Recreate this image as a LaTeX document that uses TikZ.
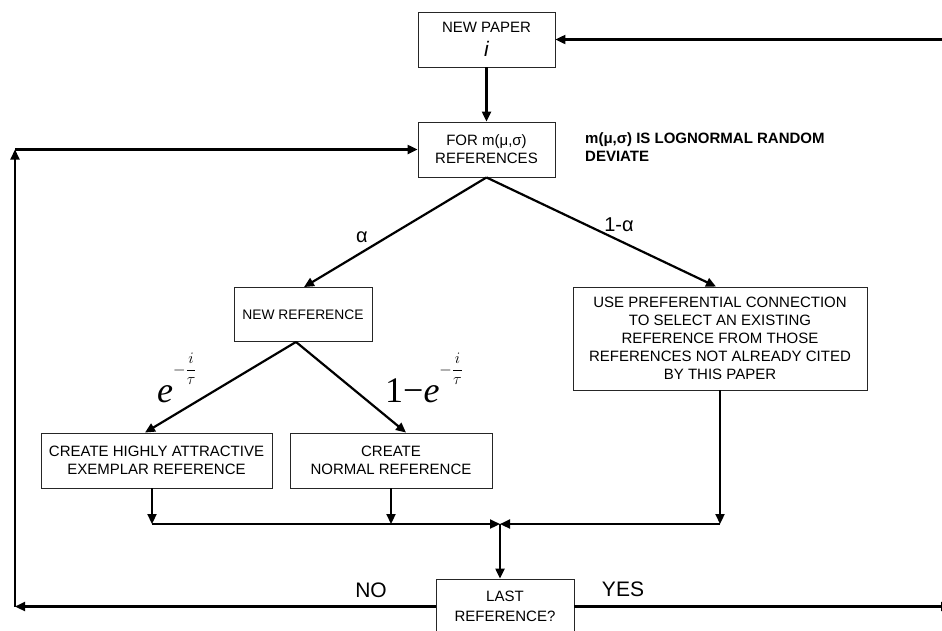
\RequirePackage{fix-cm}
\documentclass[tikz,border=0pt]{standalone}
\usepackage[no-math]{fontspec}
\setmainfont{Liberation Sans}
\newfontfamily\serifnum{Liberation Serif}
\usetikzlibrary{arrows.meta}
\newcommand{\expfrac}{\raisebox{28pt}{\fontsize{16}{16}\selectfont$\displaystyle-\frac{i}{\tau}$}}
\begin{document}
\begin{tikzpicture}[x=1pt,y=-1pt,
  box/.style={draw=black!85, line width=0.9pt, rectangle, inner sep=0pt, align=center, font=\fontsize{15}{18}\selectfont},
  arr/.style={line width=2.2pt, -{Triangle[length=10pt,width=9pt]}},
  lab/.style={inner sep=0pt, font=\fontsize{20}{24}\selectfont},
  biglab/.style={inner sep=0pt, font=\fontsize{21}{24}\selectfont},
  mathlab/.style={anchor=base west, inner sep=0pt, font=\fontsize{36}{40}\selectfont\serifnum},
  note/.style={anchor=north west, inner sep=0pt, align=left, font=\fontsize{15}{18}\selectfont\bfseries}]
\path[use as bounding box, fill=white] (0,0) rectangle (942,630);

% boxes
\node[box, minimum width=137pt, minimum height=55pt] (paper) at (486.5,39.5) {NEW PAPER\\[6pt]{\fontsize{21}{21}\selectfont\itshape i}};
\node[box, minimum width=137pt, minimum height=55pt] (forref) at (486.5,149.5) {FOR m(μ,σ)\\REFERENCES};
\node[note] (note) at (585,132) {m(μ,σ) IS LOGNORMAL RANDOM\\DEVIATE};
\node[box, minimum width=138pt, minimum height=54pt, font=\fontsize{13.8}{16}\selectfont] (newref) at (303,314.5) {NEW REFERENCE};
\node[box, minimum width=294pt, minimum height=103pt] (usepref) at (720,338.5) {USE PREFERENTIAL CONNECTION\\TO SELECT AN EXISTING\\REFERENCE FROM THOSE\\REFERENCES NOT ALREADY CITED\\BY THIS PAPER};
\node[box, minimum width=231pt, minimum height=55pt] (highly) at (156.5,460.5) {CREATE HIGHLY ATTRACTIVE\\EXEMPLAR REFERENCE};
\node[box, minimum width=202pt, minimum height=55pt] (normal) at (391,460.5) {CREATE\\NORMAL REFERENCE};
\node[box, minimum width=138pt, minimum height=55pt, font=\fontsize{15}{20}\selectfont] (last) at (505,606.5) {LAST\\REFERENCE?};

% helper coordinates
\coordinate (rt) at (946,39.5);
\coordinate (lb) at (15,606.5);
\coordinate (lt) at (15,149.5);
\coordinate (rb) at (951,606.5);
\coordinate (j) at (500,524);

% connectors
\draw[arr] (rt) -- (paper.east);
\draw[arr] (paper.south) -- (forref.north);
\draw[arr] (last.west) -- (lb);
\draw[arr] (lb) -- (lt);
\draw[arr] (lt) -- (forref.west);
\draw[arr] (last.east) -- (rb);
\draw[arr] (forref.south) -- ([xshift=1pt]newref.north);
\draw[arr] (forref.south) -- ([xshift=-4pt]usepref.north);
\draw[arr] ([xshift=-7pt]newref.south) -- ([xshift=-11.5pt]highly.north);
\draw[arr] ([xshift=-7pt]newref.south) -- ([xshift=15pt]normal.north);
\draw[arr] ([xshift=-4.5pt]highly.south) -- ([xshift=-4.5pt]highly.south |- j);
\draw[arr] ([xshift=-4.5pt]highly.south |- j) -- (j);
\draw[arr] (normal.south) -- (normal.south |- j);
\draw[arr] (usepref.south) -- (usepref.south |- j);
\draw[arr] (usepref.south |- j) -- (j);
\draw[arr] (j) -- (j |- last.north);

% labels
\node[lab] (alab) at (362,237) {α};
\node[lab] (blab) at (619,225) {1-α};
\node[biglab] (no) at (371,590) {NO};
\node[biglab] (yes) at (623,589) {YES};
\node[mathlab] (elab) at (157,402) {\itshape e\upshape\expfrac};
\node[mathlab] (flab) at (385,402) {1−\itshape e\upshape\expfrac};
\end{tikzpicture}
\end{document}
